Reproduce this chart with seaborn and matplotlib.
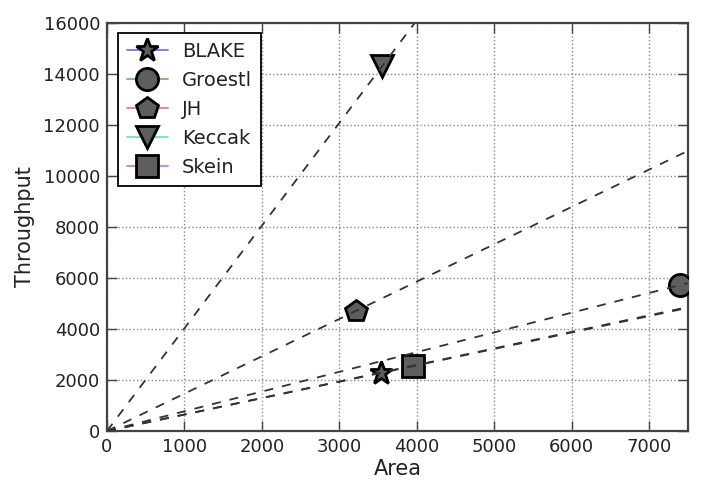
import numpy as np
import pandas as pd
import matplotlib
matplotlib.use("Agg")
import matplotlib.pyplot as plt
from matplotlib.lines import Line2D
from matplotlib.colors import to_rgba
import seaborn as sns

# Data
algorithms = ["BLAKE", "Groestl", "JH", "Keccak", "Skein"]
area = [3540, 7395, 3215, 3550, 3950]
throughput = [2280, 5720, 4710, 14300, 2560]
markers = ["*", "o", "p", "v", "s"]
line_colors = ["#0000ff", "#008000", "#ff0000", "#00bfbf", "#bf00bf"]
x_ticks = [0, 1000, 2000, 3000, 4000, 5000, 6000, 7000]
y_ticks = [0, 2000, 4000, 6000, 8000, 10000, 12000, 14000, 16000]

sns.set_theme(style="white")
plt.rcParams["font.family"] = ["DejaVu Sans"]

fig = plt.figure(figsize=(7.01, 4.83), dpi=100)
ax = fig.add_axes([107/701, 1-431/483, (688-107)/701, (431-23)/483])

xmax, ymax = 7500, 16000

for name, a, t, m, c in zip(algorithms, area, throughput, markers, line_colors):
    df = pd.DataFrame({"Area": [a], "Throughput": [t]})
    sns.lineplot(data=df, x="Area", y="Throughput", ax=ax, color=c, marker=m,
                 markersize=16 if m != "*" else 17, markerfacecolor="#5e5e5e",
                 markeredgecolor="black", markeredgewidth=2, linewidth=1.2,
                 label=name, legend=False, zorder=3)

# dashed lines from origin through each point
for a, t in zip(area, throughput):
    xs = np.array([0.0, xmax])
    ys = xs * (t / a)
    ax.plot(xs, ys, linestyle=(0, (5, 5)), color="#333333", linewidth=1.3,
            zorder=4)

ax.set_xlim(0, xmax)
ax.set_ylim(0, ymax)
ax.set_xticks(x_ticks)
ax.set_yticks(y_ticks)
ax.grid(True, linestyle=":", color="#888888", linewidth=1.0)
ax.set_axisbelow(True)

for s in ax.spines.values():
    s.set_color("#444444")
    s.set_linewidth(1.6)

ax.tick_params(direction="in", length=7, width=1.0, colors="#444444",
               top=True, right=True, bottom=True, left=True,
               labelsize=13, labelcolor="#222222", pad=5)

ax.set_xlabel("Area", fontsize=15, color="#222222", labelpad=2)
ax.set_ylabel("Throughput", fontsize=15, color="#222222", labelpad=6)

leg_handles = []
for name, m, c in zip(algorithms, markers, line_colors):
    leg_handles.append(Line2D([0], [0], color=to_rgba(c, 0.55), linewidth=1.3,
                              marker=m, markersize=16 if m != "*" else 17,
                              markerfacecolor="#5e5e5e", markeredgecolor="black",
                              markeredgewidth=2))
leg = ax.legend(leg_handles, algorithms, loc="upper left",
                bbox_to_anchor=(11/581, 1-10/408), borderaxespad=0,
                fontsize=14, numpoints=1, handlelength=2.1, labelspacing=0.52,
                handletextpad=0.75, borderpad=0.45, frameon=True, fancybox=False,
                framealpha=1.0)
leg.get_frame().set_edgecolor("black")
leg.get_frame().set_linewidth(1.3)
for t in leg.get_texts():
    t.set_color("#222222")

fig.savefig("out.png", dpi=100)
